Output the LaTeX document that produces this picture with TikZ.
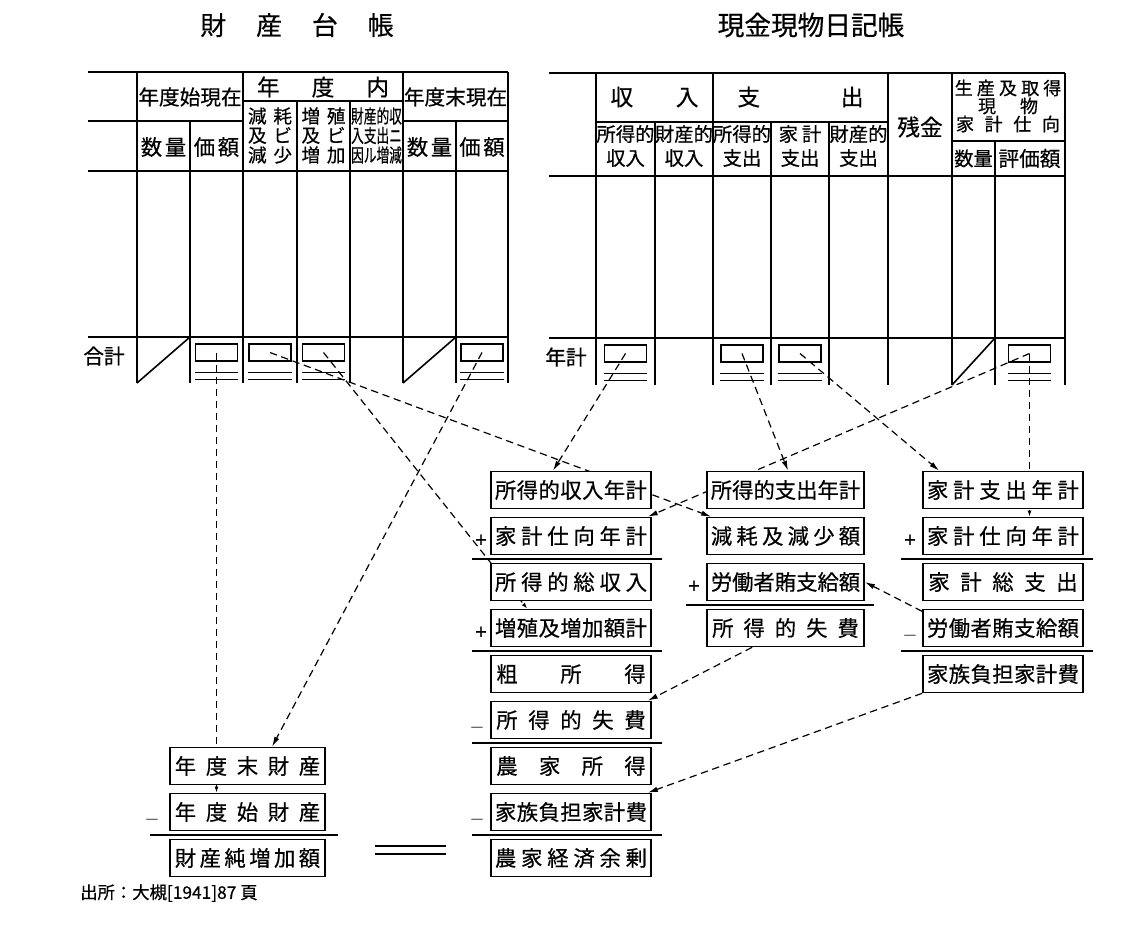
\documentclass[tikz,border=0pt]{standalone}
\usepackage{fontspec}
\setmainfont{Noto Sans CJK JP}[FakeBold=0.5]
\usepackage{graphicx}
\usetikzlibrary{arrows.meta,calc}
\pgfdeclarelayer{bgzero}
\pgfdeclarelayer{bglines}
\pgfsetlayers{bgzero,bglines,main}
\def\spr#1{\sprA#1\relax}
\def\sprA#1#2{#1\ifx\relax#2\else\hfill\expandafter\sprA\expandafter#2\fi}
\newcommand{\bt}[2]{\makebox[#1]{\spr{#2}}}
\newcommand{\dbl}[1]{\draw[ul] ($(#1.south west)+(0,11)$) -- ($(#1.south east)+(0,11)$) ($(#1.south west)+(0,18)$) -- ($(#1.south east)+(0,18)$);}
\tikzset{
  tl/.style={line width=1.2pt},
  bx/.style={draw, line width=1.2pt, fill=white, minimum height=27.75pt, inner sep=0pt, font=\fontsize{16pt}{16pt}\selectfont},
  lc/.style={bx, minimum width=120pt},
  mc/.style={bx, minimum width=117.75pt},
  rc/.style={bx, minimum width=120pt},
  bc/.style={bx, minimum width=116.25pt},
  mk/.style={draw, line width=0.9pt, minimum width=31.5pt, minimum height=12.75pt, inner sep=0pt},
  ul/.style={line width=0.9pt},
  dl/.style={line width=0.9pt, dash pattern=on 5.5pt off 3.5pt},
  ar/.style={dl, -{Latex[length=7.5pt,width=4pt]}},
  ars/.style={dl, -{Latex[length=4.5pt,width=3pt]}},
  rl/.style={line width=1.1pt},
  tx/.style={inner sep=0pt, font=\fontsize{15.5pt}{15.5pt}\selectfont},
  bigx/.style={inner sep=0pt, font=\fontsize{17pt}{17pt}\selectfont},
  sx/.style={inner sep=0pt, font=\fontsize{14pt}{14pt}\selectfont},
  hx/.style={inner sep=0pt, font=\fontsize{14.5pt}{14.5pt}\selectfont},
  smx/.style={inner sep=0pt, font=\fontsize{13.5pt}{13.5pt}\selectfont},
  sg/.style={inner sep=0pt, font=\fontsize{15pt}{15pt}\selectfont},
}
\begin{document}
\begin{tikzpicture}[x=0.75pt,y=-0.75pt]
\useasboundingbox (0,0) rectangle (1131,942);
\begin{pgfonlayer}{bgzero}
\fill[white] (0,0) rectangle (1131,942);
\end{pgfonlayer}

% titles
\node[inner sep=0pt, font=\fontsize{19.5pt}{19.5pt}\selectfont] (t1) at (297,25) {\makebox[145pt]{\spr{財産台帳}}};
\node[inner sep=0pt, font=\fontsize{20pt}{20pt}\selectfont] (t2) at (811,25) {現金現物日記帳};

% ---------- left table ----------
\draw[tl] (88,72) -- (508,72);
\draw[tl] (88,121) -- (243,121) (403,121) -- (508,121) (243,101) -- (403,101);
\draw[tl] (88,171) -- (508,171);
\draw[tl] (88,337) -- (508,337);
\draw[tl] (137,72) -- (137,383) (190,121) -- (190,383) (243,72) -- (243,383)
  (297,101) -- (297,383) (350,101) -- (350,383) (403,72) -- (403,383)
  (456,121) -- (456,383) (508,72) -- (508,383);
\draw[tl] (137,383) -- (190,337) (403,383) -- (456,337);

\node[tx] (h1) at (190,97) {年度始現在};
\node[inner sep=0pt, font=\fontsize{17pt}{17pt}\selectfont] (h2) at (323,87) {\makebox[99pt]{\spr{年度内}}};
\node[tx] (h3) at (455.5,97) {年度末現在};
\node[tx, font=\fontsize{16pt}{16pt}\selectfont] (h4) at (163.5,147) {\makebox[34pt]{\spr{数量}}};
\node[tx, font=\fontsize{16pt}{16pt}\selectfont] (h5) at (216.5,147) {\makebox[34pt]{\spr{価額}}};
\node[tx, font=\fontsize{16pt}{16pt}\selectfont] (h6) at (429.5,147) {\makebox[34pt]{\spr{数量}}};
\node[tx, font=\fontsize{16pt}{16pt}\selectfont] (h7) at (482,147) {\makebox[34pt]{\spr{価額}}};
\node[sx] (h8) at (270,116) {\makebox[33pt]{\spr{減耗}}};
\node[sx] (h9) at (270,135.5) {\makebox[33pt]{\spr{及ビ}}};
\node[sx] (h10) at (270,155) {\makebox[33pt]{\spr{減少}}};
\node[sx] (h11) at (323.5,116) {\makebox[33pt]{\spr{増殖}}};
\node[sx] (h12) at (323.5,135.5) {\makebox[33pt]{\spr{及ビ}}};
\node[sx] (h13) at (323.5,155) {\makebox[33pt]{\spr{増加}}};
\node[sx] (h14) at (376.5,116) {\scalebox{0.68}[1]{財産的収}};
\node[sx] (h15) at (376.5,135.5) {\scalebox{0.68}[1]{入支出ニ}};
\node[sx] (h16) at (376.5,155) {\scalebox{0.68}[1]{因ル増減}};
\node[tx] (s1) at (104,356) {合計};

\node[mk] (kC) at (216.5,352.5) {}; \dbl{kC}
\node[mk] (kD) at (270,352.5) {}; \dbl{kD}
\node[mk] (kE) at (323.5,352.5) {}; \dbl{kE}
\node[mk] (kH) at (482,352.5) {}; \dbl{kH}

% ---------- right table ----------
\draw[tl] (549,73) -- (1065,73);
\draw[tl] (596,122) -- (888,122) (952,141) -- (1065,141);
\draw[tl] (549,176) -- (1065,176);
\draw[tl] (549,338) -- (1065,338);
\draw[tl] (596,73) -- (596,385) (655,122) -- (655,385) (713,73) -- (713,385)
  (771,122) -- (771,385) (829,122) -- (829,385) (888,73) -- (888,385)
  (952,73) -- (952,385) (995,141) -- (995,385) (1065,73) -- (1065,385);
\draw[tl] (952,385) -- (995,338);

\node[bigx] (g1) at (654.5,97) {\makebox[66pt]{\spr{収入}}};
\node[bigx] (g2) at (800.5,97) {\makebox[94.5pt]{\spr{支出}}};
\node[hx] (g3) at (625.5,134) {所得的};
\node[hx] (g4) at (625.5,158) {収入};
\node[hx] (g5) at (684,134) {財産的};
\node[hx] (g6) at (684,158) {収入};
\node[hx] (g7) at (742,134) {所得的};
\node[hx] (g8) at (742,158) {支出};
\node[hx] (g9) at (800,134) {\makebox[32pt]{\spr{家計}}};
\node[hx] (g10) at (800,158) {支出};
\node[hx] (g11) at (858.5,134) {財産的};
\node[hx] (g12) at (858.5,158) {支出};
\node[bigx] (g13) at (920,127) {残金};
\node[smx] (g14) at (1008,88) {\makebox[80pt]{\spr{生産及取得}}};
\node[smx] (g15) at (1008,106) {\makebox[45pt]{\spr{現物}}};
\node[smx] (g16) at (1008,124) {\makebox[78pt]{\spr{家計仕向}}};
\node[hx] (g17) at (973.5,158.5) {数量};
\node[tx] (g18) at (1029.5,158.5) {評価額};
\node[tx] (s2) at (566,357) {年計};

\node[mk] (jB) at (625.5,353.5) {}; \dbl{jB}
\node[mk] (jD) at (742,353.5) {}; \dbl{jD}
\node[mk] (jE) at (800,353.5) {}; \dbl{jE}
\node[mk] (jI) at (1029.5,353.5) {}; \dbl{jI}

% ---------- computation boxes ----------
\node[lc] (lA) at (571,490) {\bt{114pt}{所得的収入年計}};
\node[lc] (lB) at (571,536) {\bt{114pt}{家計仕向年計}};
\node[lc] (lC) at (571,582) {\bt{114pt}{所得的総収入}};
\node[lc] (lD) at (571,628) {\bt{114pt}{増殖及増加額計}};
\node[lc] (lE) at (571,674) {\bt{112pt}{粗所得}};
\node[lc] (lF) at (571,720) {\bt{112pt}{所得的失費}};
\node[lc] (lG) at (571,766) {\bt{112pt}{農家所得}};
\node[lc] (lH) at (571,812) {\bt{114pt}{家族負担家計費}};
\node[lc] (lI) at (571,858) {\bt{114pt}{農家経済余剰}};

\node[mc] (m1) at (785.5,490) {\bt{112pt}{所得的支出年計}};
\node[mc] (m2) at (785.5,536) {\bt{112pt}{減耗及減少額}};
\node[mc] (m3) at (785.5,582) {\bt{112pt}{労働者賄支給額}};
\node[mc] (m4) at (785.5,628) {\bt{110pt}{所得的失費}};

\node[rc] (r1) at (1003,490) {\bt{114pt}{家計支出年計}};
\node[rc] (r2) at (1003,536) {\bt{114pt}{家計仕向年計}};
\node[rc] (r3) at (1003,582) {\bt{112pt}{家計総支出}};
\node[rc] (r4) at (1003,628) {\bt{114pt}{労働者賄支給額}};
\node[rc] (r5) at (1003,674) {\bt{114pt}{家族負担家計費}};

\node[bc] (b1) at (247.5,766) {\bt{109pt}{年度末財産}};
\node[bc] (b2) at (247.5,812) {\bt{109pt}{年度始財産}};
\node[bc] (b3) at (247.5,858) {\bt{109pt}{財産純増加額}};

% signs
\node[sg] (p1) at (481,541) {+};
\node[sg] (p2) at (481,633) {+};
\node[sg] (n1) at (477,728) {$-$};
\node[sg] (n2) at (477,820) {$-$};
\node[sg] (p3) at (694,587) {+};
\node[sg] (p4) at (910,541) {+};
\node[sg] (n3) at (910,636) {$-$};
\node[sg] (n4) at (152,820) {$-$};

% rules
\draw[rl] (472,559) -- (662,559) (472,651) -- (662,651) (472,743) -- (662,743) (472,835) -- (662,835);
\draw[rl] (686,605) -- (874,605);
\draw[rl] (901,559) -- (1093,559) (901,651) -- (1093,651);
\draw[rl] (150,835) -- (338,835);
\draw[rl] (375,846) -- (446,846) (375,854) -- (446,854);

% footnote
\node[anchor=west, inner sep=0pt, font=\fontsize{13pt}{13pt}\selectfont] (fn) at (80,893) {出所：大槻[1941]87 頁};

% connectors
\begin{pgfonlayer}{bglines}
\draw[ars] (kC.center) -- (kC.center |- b2.north);
\draw[ar] (kH.center) -- ([xshift=18.4pt]b1.north);
\draw[ar] (kD.center) -- ([xshift=3.75pt]m2.north west);
\draw[ars] (kE.center) -- ([xshift=27.75pt]lD.north west);
\draw[ar] (jB.center) -- ([xshift=-13.5pt]lA.north);
\draw[ar] (jD.center) -- ([xshift=1.9pt]m1.north);
\draw[ar] (jE.center) -- ([xshift=12.75pt]r1.north west);
\draw[ars] (jI.center) -- (jI.center |- r2.north);
\draw[ar] (jI.center) -- ([xshift=-3pt]lB.north east);
\draw[ar] ([yshift=-2pt]r4.north west) -- (m3.east);
\draw[ar] ([xshift=-25pt]m4.south) -- ([xshift=-3pt]lF.north east);
\draw[ar] (r5.south west) -- ([xshift=-3pt]lH.north east);
\end{pgfonlayer}
\end{tikzpicture}
\end{document}
